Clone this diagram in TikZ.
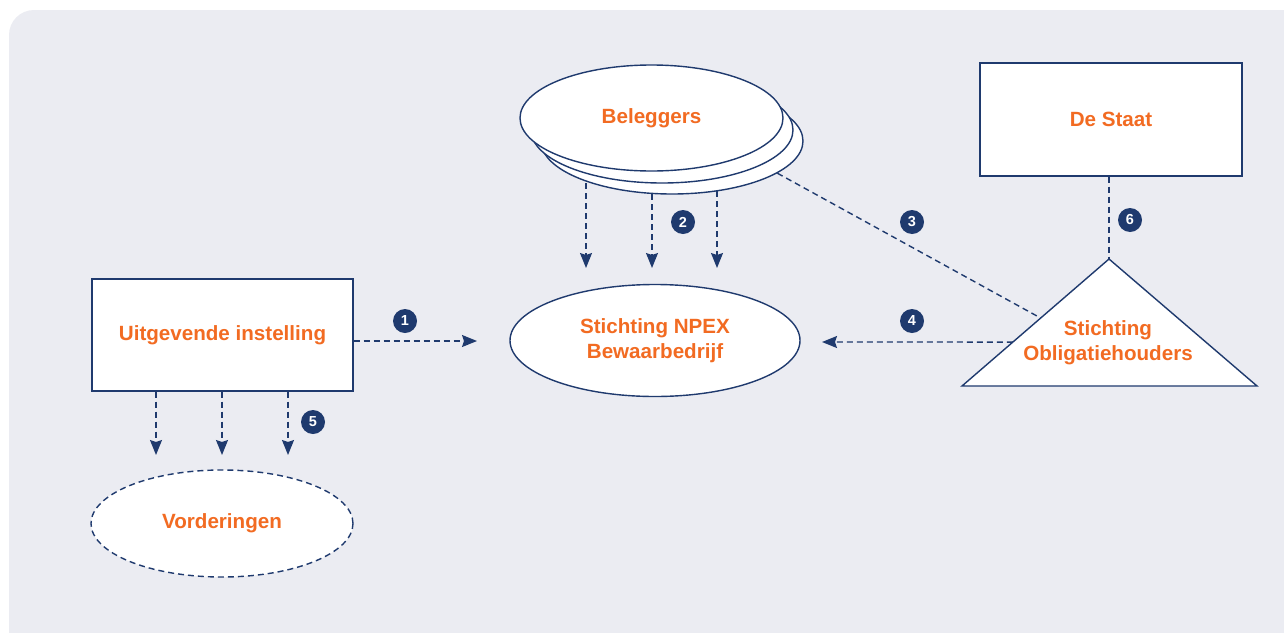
\documentclass[tikz,border=0pt]{standalone}
\usepackage{fontspec}
\setmainfont{Liberation Sans}
\usetikzlibrary{shapes.geometric,arrows.meta,calc}
\definecolor{navy}{HTML}{1F3A6E}
\definecolor{orng}{HTML}{F26B22}
\definecolor{bgc}{HTML}{EBECF2}
\begin{document}
\begin{tikzpicture}[x=1pt,y=-1pt,
  every node/.style={font=\bfseries\fontsize{20.6}{25.5}\selectfont, text=orng, align=center},
  box/.style={draw=navy, line width=1.4pt, fill=white, minimum width=261pt, minimum height=112pt, inner sep=0pt},
  ell/.style={ellipse, draw=navy, line width=1.4pt, fill=white, inner sep=0pt},
  dline/.style={draw=navy, line width=1.4pt, dash pattern=on 6pt off 4pt},
  arr/.style={dline, -{Stealth[length=15pt,width=12pt,inset=2pt]}},
  badge/.style={circle, fill=navy, text=white, minimum size=24pt, inner sep=0pt, font=\bfseries\fontsize{14.5}{14.5}\selectfont}
]
\useasboundingbox (0,0) rectangle (1284,632);
\clip (0,0) rectangle (1284,632);
\fill[bgc, rounded corners=25pt] (9,10) rectangle (1340,700);

% Boxes
\node[box] (uit) at (222.5,335) {Uitgevende instelling};
\node[box, minimum width=262pt, minimum height=113pt] (staat) at (1111,119.5) {De Staat};

% Ellipses
\node[ell, dashed, dash pattern=on 6pt off 4pt, minimum width=262pt, minimum height=107pt] (vord) at (222,523.5) {Vorderingen};
\node[ell, minimum width=290pt, minimum height=112pt] (npex) at (655,340.5) {Stichting NPEX\\Bewaarbedrijf};
\node[ell, minimum width=262pt, minimum height=106pt] (bel3) at (672,141) {};
\node[ell, minimum width=262pt, minimum height=106pt] (bel2) at (662,130) {};
\node[ell, minimum width=263pt, minimum height=106pt] (bel1) at (651.5,118) {Beleggers};

% Triangle
\coordinate (ta) at (1109,259);
\coordinate (tl) at (962,386);
\coordinate (tr) at (1257,386);
\draw[navy, line width=1.4pt, fill=white, line join=miter] (ta) -- (tl) -- (tr) -- cycle;
\node (obl) at (1108,342.5) {Stichting\\Obligatiehouders};

% Connector coordinates
\coordinate (e1) at (477,341);
\coordinate (s2a) at ($(bel3.center)+(-86,42)$);
\coordinate (s2b) at ($(bel3.center)+(-20,53)$);
\coordinate (s2c) at ($(bel3.center)+(45,50)$);
\coordinate (e2a) at (586,268);
\coordinate (e2b) at (652,268);
\coordinate (e2c) at (717,268);
\coordinate (t3) at ($(tl)!0.535!(ta)$);
\coordinate (t4) at ($(tl)!0.346!(ta)$);
\coordinate (e4) at (822,342);
\coordinate (e5a) at (156,455);
\coordinate (e5b) at (222,455);
\coordinate (e5c) at (288,455);

% Connectors
\draw[arr] ([yshift=-6pt]uit.east) -- (e1);
\draw[arr] (s2a) -- (e2a);
\draw[arr] (s2b) -- (e2b);
\draw[arr] (s2c) -- (e2c);
\draw[dline] (bel3.-17) -- (t3);
\draw[arr] (t4) -- (e4);
\draw[arr] ([xshift=-66.5pt]uit.south) -- (e5a);
\draw[arr] ([xshift=-0.5pt]uit.south) -- (e5b);
\draw[arr] ([xshift=65.5pt]uit.south) -- (e5c);
\draw[dline] ([xshift=-2pt]staat.south) -- (ta);

% Badges
\node[badge] (n1) at (405,321) {1};
\node[badge] (n2) at (683,222) {2};
\node[badge] (n3) at (912,222) {3};
\node[badge] (n4) at (912,321) {4};
\node[badge] (n5) at (313,422) {5};
\node[badge] (n6) at (1130,220) {6};
\end{tikzpicture}
\end{document}
